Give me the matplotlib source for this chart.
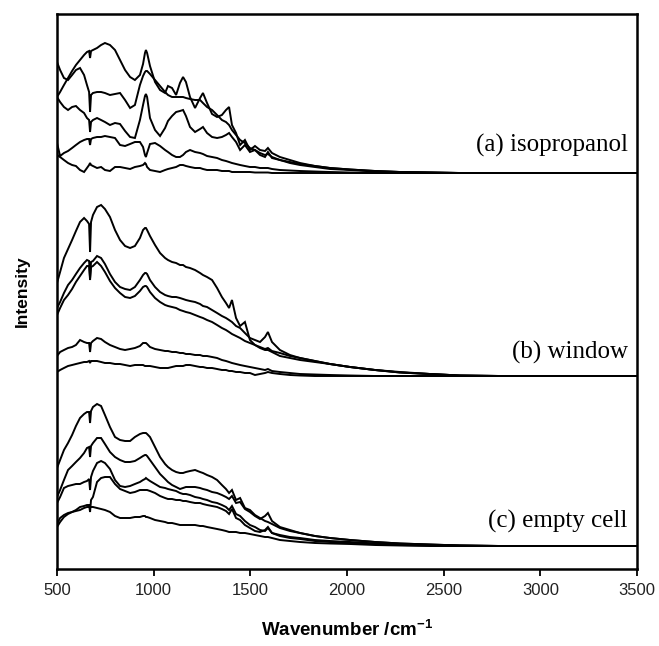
import matplotlib
matplotlib.use("Agg")
import matplotlib.pyplot as plt

plt.rcParams['font.family'] = ['Liberation Sans', 'DejaVu Sans']
plt.rcParams['mathtext.fontset'] = 'custom'
plt.rcParams['mathtext.rm'] = 'Liberation Sans'
plt.rcParams['mathtext.bf'] = 'Liberation Sans:bold'

# ---- data -------------------------------------------------------------
wavenumber = [500, 516, 536, 557, 578, 598, 619, 640, 655, 666,
              671, 676, 686, 707, 728, 748, 774, 800, 826, 852,
              878, 903, 929, 945, 955, 960, 966, 981, 1007, 1033,
              1059, 1074, 1095, 1116, 1136, 1152, 1167, 1188, 1214, 1240,
              1255, 1276, 1302, 1328, 1353, 1374, 1390, 1405, 1426, 1447,
              1472, 1498, 1524, 1550, 1576, 1591, 1612, 1653, 1705, 1757,
              1834, 1912, 2016, 2145, 2274, 2429, 2584, 2791, 3500]

# (a) isopropanol - intensity above the group baseline (a.u.)
iso_1 = [76, 81, 88, 95, 102, 108, 113, 118, 121, 122,
         115, 122, 123, 125, 128, 130, 128, 123, 113, 103,
         96, 93, 98, 109, 120, 123, 120, 107, 91, 83,
         80, 87, 85, 78, 90, 96, 91, 76, 65, 75,
         80, 70, 59, 56, 58, 63, 66, 48, 40, 28,
         33, 23, 27, 23, 22, 25, 20, 16, 13, 10,
         7, 5, 3.5, 2, 1, 0.5, 0, 0, 0]
iso_2 = [111, 103, 95, 93, 98, 103, 105, 98, 88, 81,
         61, 78, 80, 81, 81, 80, 78, 79, 80, 73,
         65, 68, 88, 97, 101, 102, 102, 99, 93, 87,
         81, 78, 76, 76, 76, 76, 75, 74, 73, 73,
         70, 66, 63, 58, 53, 51, 48, 43, 38, 33,
         30, 25, 23, 20, 18, 19, 16, 13, 11, 9,
         7, 5, 3.5, 2, 1, 0.5, 0, 0, 0]
iso_3 = [76, 71, 66, 63, 66, 67, 63, 60, 55, 53,
         41, 51, 53, 55, 53, 51, 48, 50, 49, 42,
         36, 35, 53, 68, 77, 79, 76, 55, 43, 37,
         45, 52, 57, 61, 62, 63, 57, 46, 41, 44,
         46, 40, 36, 35, 36, 38, 40, 36, 31, 23,
         28, 21, 23, 18, 16, 21, 15, 13, 10, 8,
         6, 4, 3, 1.5, 1, 0.5, 0, 0, 0]
iso_4 = [30, 17, 20, 22, 25, 28, 31, 33, 34, 34,
         28, 34, 35, 36, 36, 37, 36, 35, 28, 27,
         29, 31, 31, 26, 18, 16, 20, 29, 30, 27,
         23, 21, 18, 16, 16, 18, 21, 23, 21, 20,
         19, 17, 16, 15, 13, 12, 11, 10, 9, 8,
         7, 6, 6, 5, 5, 5, 4, 3, 2.5, 2,
         1.5, 1, 0.5, 0, 0, 0, 0, 0, 0]
iso_5 = [18, 16, 13, 10, 8, 7, 3, 1, 5, 8,
         10, 8, 7, 5, 6, 3, 2, 6, 6, 5,
         4, 6, 7, 8, 10, 9, 6, 3, 2, 1,
         3, 4, 5, 6, 8, 8, 7, 6, 5, 5,
         4, 3, 3, 3, 2, 2, 2, 1, 1, 1,
         1, 1, 0.5, 0.5, 0.5, 0.5, 0, 0, 0, 0,
         0, 0, 0, 0, 0, 0, 0, 0, 0]

# (b) window
win_1 = [93, 104, 118, 127, 136, 145, 154, 158, 155, 152,
         124, 154, 161, 169, 171, 167, 159, 146, 136, 130,
         128, 130, 138, 146, 148, 148, 146, 140, 131, 123,
         118, 116, 114, 113, 111, 111, 109, 108, 106, 103,
         101, 99, 96, 88, 79, 73, 68, 76, 58, 50,
         54, 36, 31, 28, 26, 26, 24, 20, 18, 16,
         14, 12, 9, 6, 4, 2, 0.5, 0, 0]
win_2 = [68, 74, 83, 91, 96, 102, 108, 113, 116, 115,
         98, 114, 115, 120, 118, 112, 102, 94, 89, 87,
         86, 89, 96, 101, 103, 103, 102, 96, 89, 84,
         81, 80, 79, 79, 78, 77, 76, 75, 74, 72,
         70, 69, 66, 63, 60, 58, 56, 54, 50, 48,
         43, 38, 36, 34, 39, 44, 34, 26, 21, 18,
         15, 12, 9, 6, 3.5, 2, 0.5, 0, 0]
win_3 = [61, 68, 76, 81, 87, 94, 100, 106, 110, 110,
         96, 109, 110, 114, 110, 104, 95, 88, 83, 79,
         78, 80, 85, 89, 90, 90, 89, 84, 78, 74,
         71, 70, 69, 68, 66, 65, 64, 63, 61, 59,
         58, 56, 54, 51, 48, 46, 44, 42, 40, 38,
         35, 33, 31, 29, 27, 28, 25, 23, 20, 18,
         15, 12, 9, 6, 3.5, 2, 0.5, 0, 0]
win_4 = [20, 24, 26, 28, 29, 31, 36, 34, 33, 33,
         24, 33, 35, 38, 37, 34, 31, 29, 27, 26,
         27, 28, 30, 33, 33, 33, 32, 29, 27, 26,
         25, 25, 24, 24, 23, 23, 22, 22, 21, 21,
         20, 20, 19, 18, 16, 15, 14, 13, 12, 11,
         10, 9, 8, 7, 6, 7, 5, 4, 3, 2,
         1.5, 1, 0.5, 0, 0, 0, 0, 0, 0]
win_5 = [4, 6, 8, 10, 11, 12, 13, 14, 14, 15,
         13, 15, 15, 15, 14, 13, 13, 12, 12, 11,
         10, 11, 11, 11, 10, 10, 10, 10, 9, 8,
         8, 8, 9, 10, 10, 10, 11, 11, 10, 9,
         9, 8, 8, 7, 6, 6, 5, 5, 4, 4,
         3, 3, 1, 2, 3, 4, 3, 2, 1, 0.5,
         0, 0, 0, 0, 0, 0, 0, 0, 0]

# (c) empty cell
cell_1 = [78, 86, 96, 103, 111, 120, 128, 132, 134, 134,
          123, 135, 139, 142, 140, 131, 119, 109, 106, 105,
          105, 109, 112, 113, 113, 113, 112, 109, 99, 89,
          82, 79, 76, 74, 73, 73, 74, 75, 76, 74,
          73, 71, 69, 66, 61, 57, 53, 56, 46, 48,
          38, 36, 31, 28, 25, 24, 22, 18, 15, 13,
          10, 8, 6, 4, 2.5, 1.5, 0.5, 0, 0]
cell_2 = [49, 56, 66, 76, 80, 84, 88, 93, 98, 99,
          89, 100, 103, 108, 108, 102, 94, 89, 86, 84,
          84, 85, 88, 90, 91, 91, 90, 86, 79, 72,
          67, 64, 61, 59, 57, 58, 59, 59, 59, 58,
          57, 56, 54, 53, 51, 49, 47, 50, 43, 44,
          37, 34, 30, 27, 30, 33, 25, 19, 16, 13,
          10, 8, 6, 4, 2.5, 1.5, 0.5, 0, 0]
cell_3 = [43, 49, 58, 60, 61, 62, 62, 64, 65, 67,
          56, 69, 75, 83, 85, 83, 77, 66, 60, 59,
          60, 62, 64, 66, 67, 68, 67, 65, 62, 59,
          58, 57, 56, 55, 53, 52, 52, 51, 49, 48,
          47, 46, 44, 43, 41, 39, 36, 40, 32, 30,
          25, 21, 19, 16, 15, 18, 13, 11, 9, 8,
          6, 5, 4, 2.5, 1.5, 1, 0.5, 0, 0]
cell_4 = [22, 28, 31, 33, 34, 36, 39, 40, 41, 41,
          34, 46, 49, 64, 68, 69, 69, 62, 57, 55,
          53, 54, 56, 56, 56, 56, 56, 55, 53, 50,
          48, 47, 47, 46, 46, 45, 45, 44, 43, 43,
          42, 41, 40, 39, 37, 35, 32, 37, 28, 26,
          21, 18, 15, 14, 16, 19, 13, 10, 8, 7,
          5, 4, 3, 2, 1, 0.5, 0, 0, 0]
cell_5 = [19, 24, 29, 32, 34, 35, 36, 38, 39, 39,
          39, 39, 39, 38, 37, 36, 34, 30, 28, 28,
          28, 29, 29, 30, 30, 29, 29, 28, 26, 25,
          24, 23, 23, 22, 21, 21, 21, 21, 21, 20,
          20, 19, 18, 17, 16, 15, 14, 14, 14, 13,
          13, 12, 11, 10, 9, 9, 8, 6, 5, 4,
          3, 2.5, 2, 1, 0.5, 0, 0, 0, 0]

groups = [
    ("(a) isopropanol", [iso_1, iso_2, iso_3, iso_4, iso_5]),
    ("(b) window", [win_1, win_2, win_3, win_4, win_5]),
    ("(c) empty cell", [cell_1, cell_2, cell_3, cell_4, cell_5]),
]
x_ticks = [500, 1000, 1500, 2000, 2500, 3000, 3500]

# ---- layout -----------------------------------------------------------
offsets = [396, 193, 23]            # vertical stacking of the groups
label_y = [0.764, 0.391, 0.085]     # axes-fraction y of the group labels

fig = plt.figure(figsize=(6.59, 6.46), dpi=100)
ax = fig.add_axes([57 / 659, 77 / 646, 580 / 659, 555 / 646])

for (name, curves), off, ly in zip(groups, offsets, label_y):
    for c in curves:
        ax.plot(wavenumber, [v + off for v in c], color='black', lw=1.4,
                solid_joinstyle='miter')
    ax.text(0.984, ly, name, transform=ax.transAxes, ha='right', va='center',
            fontsize=18, family=['Liberation Serif', 'DejaVu Serif'])

ax.set_xlim(500, 3500)
ax.set_ylim(0, 555)
ax.set_xticks(x_ticks)
ax.set_xticklabels([str(t) for t in x_ticks], fontsize=12, color='#222222')
ax.set_yticks([])
ax.tick_params(axis='x', direction='out', length=5, width=1.3, pad=5)
for s in ax.spines.values():
    s.set_linewidth(1.8)

ax.set_xlabel(r'Wavenumber /cm$^{\mathbf{-1}}$', fontsize=13.5, fontweight='bold')
ax.xaxis.label.set_va('center')
ax.xaxis.set_label_coords(0.5, -0.110)
ax.set_ylabel('Intensity', fontsize=12.5, fontweight='bold')
ax.yaxis.label.set_va('center')
ax.yaxis.set_label_coords(-0.060, 0.5)

fig.savefig('out.png', dpi=100)
